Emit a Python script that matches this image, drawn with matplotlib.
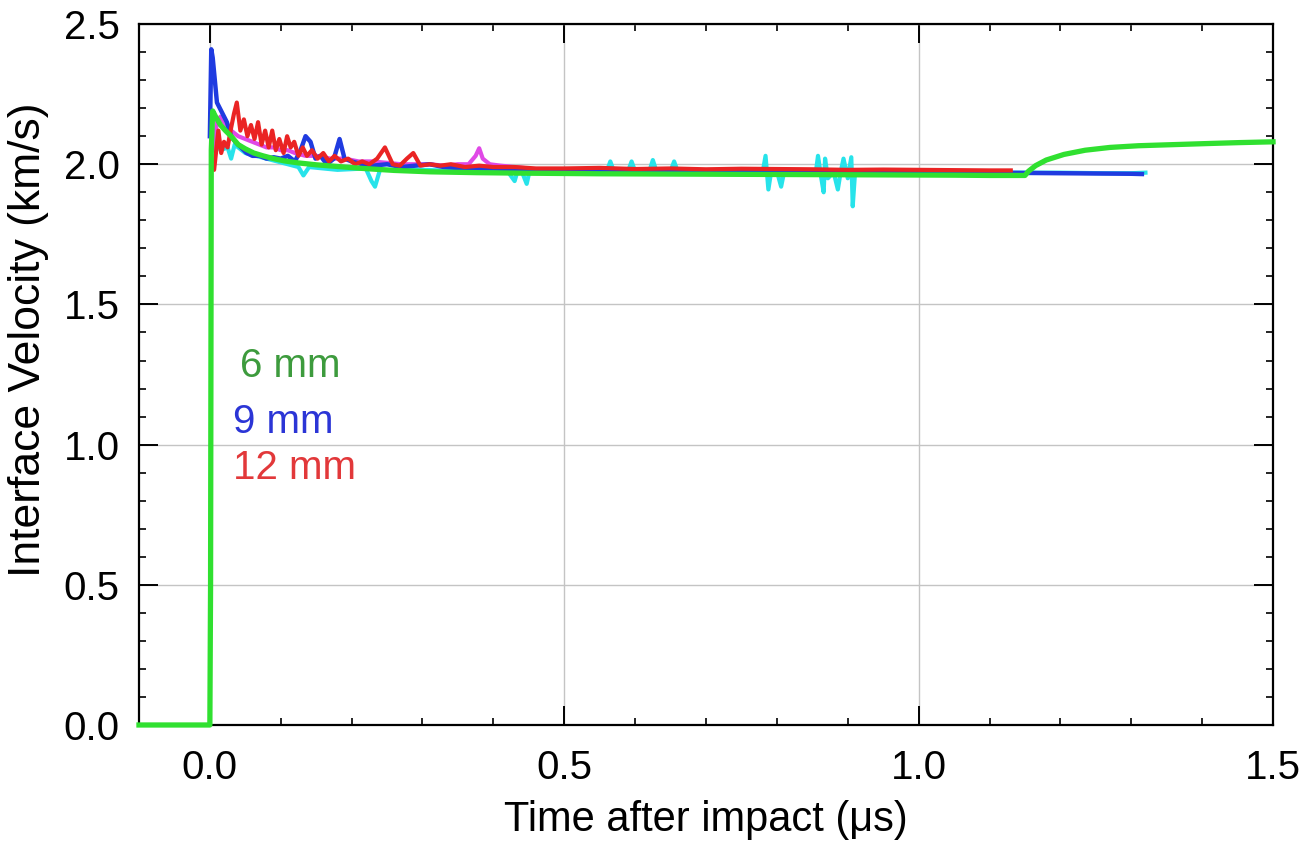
import matplotlib
matplotlib.use("Agg")
import matplotlib.pyplot as plt
from matplotlib.ticker import MultipleLocator, FormatStrFormatter

plt.rcParams['font.family'] = ['Liberation Sans', 'DejaVu Sans']

# 6 mm trace (green)
t_6mm = [-0.10, 0.000, 0.001, 0.002, 0.004, 0.008, 0.015, 0.022, 0.030, 0.040,
         0.050, 0.062, 0.075, 0.090, 0.105, 0.124, 0.150, 0.180, 0.216, 0.260,
         0.310, 0.376, 0.450, 0.550, 0.650, 0.750, 0.850, 0.950, 1.050, 1.100,
         1.150, 1.155, 1.165, 1.180, 1.205, 1.235, 1.270, 1.310, 1.360, 1.410,
         1.450, 1.500]
v_6mm = [0.00, 0.00, 0.50, 2.05, 2.19, 2.17, 2.14, 2.12, 2.10, 2.07,
         2.055, 2.04, 2.03, 2.02, 2.012, 2.005, 1.998, 1.992, 1.985, 1.978,
         1.973, 1.970, 1.968, 1.966, 1.965, 1.964, 1.963, 1.962, 1.961, 1.960,
         1.960, 1.975, 1.995, 2.015, 2.035, 2.050, 2.060, 2.066, 2.070, 2.074,
         2.077, 2.080]

# 9 mm trace (blue)
t_9mm = [0.000, 0.002, 0.004, 0.007, 0.010, 0.014, 0.018, 0.024, 0.030, 0.036,
         0.044, 0.052, 0.060, 0.070, 0.080, 0.090, 0.100, 0.110, 0.120, 0.128,
         0.135, 0.142, 0.149, 0.156, 0.165, 0.175, 0.183, 0.190, 0.200, 0.215,
         0.230, 0.250, 0.270, 0.290, 0.310, 0.330, 0.360, 0.400, 0.450, 0.500,
         0.600, 0.700, 0.800, 0.900, 1.000, 1.100, 1.200, 1.250, 1.300, 1.315]
v_9mm = [2.10, 2.41, 2.38, 2.30, 2.22, 2.20, 2.18, 2.15, 2.10, 2.08,
         2.06, 2.04, 2.03, 2.03, 2.02, 2.025, 2.02, 2.03, 2.01, 2.05,
         2.10, 2.08, 2.02, 2.03, 2.00, 2.02, 2.09, 2.02, 2.01, 2.00,
         1.995, 2.00, 1.99, 1.995, 2.00, 1.99, 1.985, 1.985, 1.98, 1.978,
         1.976, 1.975, 1.975, 1.972, 1.972, 1.970, 1.968, 1.967, 1.966, 1.965]

# 12 mm trace (red)
t_12mm = [0.003, 0.006, 0.009, 0.012, 0.016, 0.020, 0.025, 0.030, 0.034, 0.038,
          0.043, 0.048, 0.053, 0.058, 0.063, 0.068, 0.073, 0.078, 0.083, 0.088,
          0.093, 0.098, 0.104, 0.109, 0.114, 0.119, 0.125, 0.131, 0.137, 0.144,
          0.152, 0.160, 0.168, 0.176, 0.185, 0.195, 0.205, 0.215, 0.225, 0.236,
          0.247, 0.258, 0.268, 0.278, 0.287, 0.297, 0.310, 0.325, 0.340, 0.360,
          0.380, 0.400, 0.430, 0.460, 0.500, 0.550, 0.600, 0.650, 0.700, 0.750,
          0.800, 0.850, 0.900, 0.950, 1.000, 1.050, 1.100, 1.130]
v_12mm = [2.00, 1.98, 2.05, 2.12, 2.04, 2.08, 2.06, 2.13, 2.18, 2.22,
          2.12, 2.16, 2.10, 2.14, 2.09, 2.15, 2.07, 2.12, 2.06, 2.12,
          2.05, 2.09, 2.04, 2.10, 2.06, 2.08, 2.03, 2.06, 2.03, 2.05,
          2.02, 2.04, 2.01, 2.03, 2.01, 2.02, 2.00, 2.01, 2.00, 2.02,
          2.06, 2.00, 1.995, 2.02, 2.04, 1.995, 2.00, 1.995, 2.00, 1.99,
          1.995, 1.99, 1.99, 1.985, 1.985, 1.987, 1.983, 1.985, 1.982, 1.984,
          1.983, 1.982, 1.980, 1.981, 1.980, 1.979, 1.978, 1.978]

# extra shots (magenta, cyan)
t_mag = [0.005, 0.010, 0.015, 0.020, 0.030, 0.040, 0.050, 0.060, 0.070, 0.080,
         0.090, 0.100, 0.110, 0.120, 0.135, 0.150, 0.170, 0.190, 0.210, 0.230,
         0.250, 0.270, 0.290, 0.310, 0.330, 0.350, 0.365, 0.375, 0.380, 0.385,
         0.395, 0.410, 0.430, 0.450]
v_mag = [2.05, 2.15, 2.17, 2.15, 2.12, 2.10, 2.09, 2.08, 2.07, 2.06,
         2.06, 2.05, 2.05, 2.04, 2.03, 2.03, 2.02, 2.02, 2.01, 2.01,
         2.005, 2.00, 2.00, 2.00, 1.995, 2.00, 2.00, 2.03, 2.057, 2.02,
         2.00, 1.995, 1.99, 1.985]

t_cyan = [0.005, 0.015, 0.025, 0.030, 0.035, 0.050, 0.080, 0.110, 0.125, 0.132,
          0.140, 0.180, 0.220, 0.228, 0.233, 0.240, 0.300, 0.360, 0.420, 0.430,
          0.434, 0.440, 0.447, 0.451, 0.456, 0.500, 0.560, 0.565, 0.570, 0.590,
          0.595, 0.600, 0.620, 0.625, 0.630, 0.650, 0.655, 0.660, 0.700, 0.740,
          0.775, 0.780, 0.784, 0.788, 0.792, 0.800, 0.806, 0.810, 0.815, 0.830,
          0.850, 0.855, 0.858, 0.862, 0.866, 0.868, 0.872, 0.880, 0.886, 0.890,
          0.894, 0.900, 0.905, 0.907, 0.910, 0.914, 0.920, 0.980, 1.050, 1.120,
          1.200, 1.260, 1.300, 1.320]
v_cyan = [2.10, 2.05, 2.06, 2.02, 2.07, 2.04, 2.02, 2.00, 1.99, 1.96,
          1.99, 1.98, 1.985, 1.94, 1.92, 1.98, 1.98, 1.975, 1.975, 1.94,
          1.975, 1.975, 1.93, 1.975, 1.975, 1.975, 1.975, 2.01, 1.975, 1.975,
          2.01, 1.975, 1.975, 2.015, 1.975, 1.975, 2.01, 1.975, 1.972, 1.972,
          1.972, 1.972, 2.03, 1.91, 1.975, 1.975, 1.92, 1.97, 1.972, 1.975,
          1.972, 1.972, 2.03, 1.96, 1.90, 2.02, 1.95, 1.972, 1.91, 1.972,
          2.02, 1.95, 2.025, 1.85, 1.96, 1.975, 1.972, 1.972, 1.972, 1.970,
          1.970, 1.968, 1.968, 1.970]

labels = ["6 mm", "9 mm", "12 mm"]
label_colors = ["#3d9b3d", "#2b35d6", "#e2383a"]
label_x = [0.043, 0.033, 0.032]
label_y = [1.28, 1.08, 0.915]

fig = plt.figure(figsize=(13.05, 8.44), dpi=100)
ax = fig.add_axes([0.1065, 0.141, 0.869, 0.8305])

ax.plot(t_cyan, v_cyan, color="#27e3ea", lw=3.0, zorder=3)
ax.plot(t_mag, v_mag, color="#e048e6", lw=3.0, zorder=4)
ax.plot(t_9mm, v_9mm, color="#1f3be0", lw=3.2, zorder=5)
ax.plot(t_12mm, v_12mm, color="#ea2424", lw=3.0, zorder=6)
ax.plot(t_6mm, v_6mm, color="#30e030", lw=3.8, zorder=7, clip_on=False)

for lab, c, x, y in zip(labels, label_colors, label_x, label_y):
    ax.text(x, y, lab, color=c, fontsize=29, ha="left", va="center", zorder=8)

ax.set_xlim(-0.1, 1.5)
ax.set_ylim(0, 2.5)
ax.xaxis.set_major_locator(MultipleLocator(0.5))
ax.xaxis.set_minor_locator(MultipleLocator(0.1))
ax.yaxis.set_major_locator(MultipleLocator(0.5))
ax.yaxis.set_minor_locator(MultipleLocator(0.1))
ax.xaxis.set_major_formatter(FormatStrFormatter("%.1f"))
ax.yaxis.set_major_formatter(FormatStrFormatter("%.1f"))

ax.grid(True, which="major", color="#c4c4c4", lw=1.0, zorder=1)
ax.set_axisbelow(True)
ax.tick_params(which="both", direction="in", top=True, right=True,
               labelsize=29, colors="black")
ax.tick_params(which="major", length=14, width=1.4)
ax.tick_params(which="minor", length=5, width=1.2)
ax.tick_params(axis="x", which="major", pad=17)
ax.tick_params(axis="y", which="major", pad=14)
for s in ax.spines.values():
    s.set_linewidth(1.6)

ax.set_xlabel("Time after impact (\u03bcs)", fontsize=30)
ax.set_ylabel("Interface Velocity (km/s)", fontsize=32)
ax.xaxis.set_label_coords(0.5, -0.107)
ax.yaxis.set_label_coords(-0.079, 0.55)

fig.savefig("out.png", dpi=100)
